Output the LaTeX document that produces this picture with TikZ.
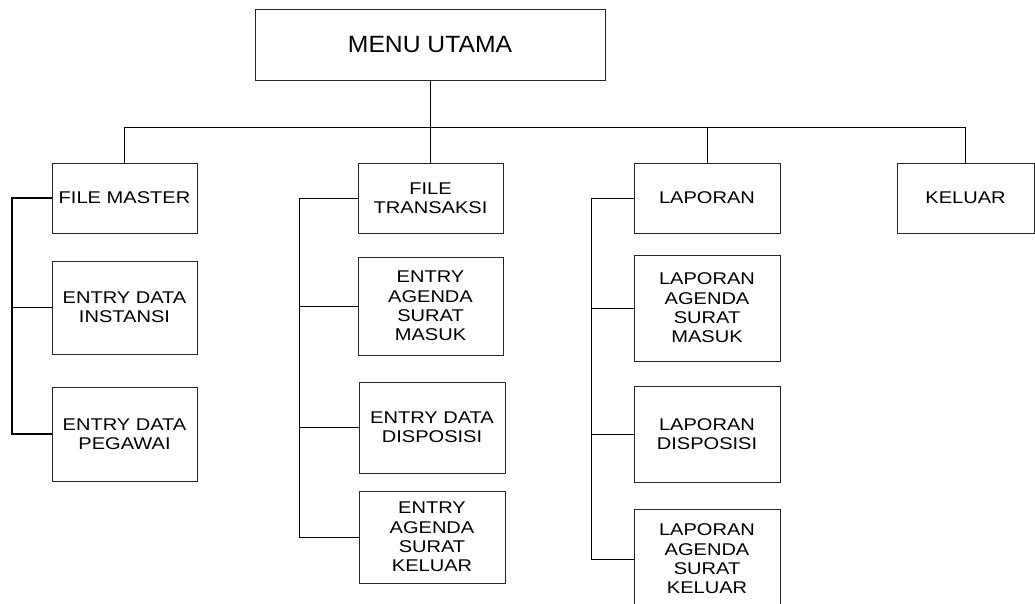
\documentclass[tikz,border=0pt]{standalone}
\usepackage{fontspec}
\setmainfont{Liberation Sans}
\newfontfamily\boxfont[FakeStretch=1.18]{Liberation Sans}
\newfontfamily\titlefont[FakeStretch=1.05]{Liberation Sans}
\begin{document}
\begin{tikzpicture}[x=1pt,y=-1pt,
  menubox/.style={draw=black!85, line width=0.8pt, align=center, inner sep=0pt,
    font=\boxfont\fontsize{17}{19.4}\selectfont},
  titlebox/.style={menubox, font=\titlefont\fontsize{23.5}{26}\selectfont},
  link/.style={draw=black, line width=0.8pt}]
\useasboundingbox (0,0) rectangle (1035,604);
\clip (0,0) rectangle (1035,604);

% top level
\node[titlebox, minimum width=350pt, minimum height=71pt] (menu) at (430,44.5) {MENU UTAMA};

\node[menubox, minimum width=145pt, minimum height=70pt] (fm)  at (124.5,198) {FILE MASTER};
\node[menubox, minimum width=145pt, minimum height=70pt] (ft)  at (430.5,198) {FILE\\TRANSAKSI};
\node[menubox, minimum width=146pt, minimum height=70pt] (lap) at (707,198) {LAPORAN};
\node[menubox, minimum width=137pt, minimum height=70pt] (kel) at (965.5,198) {KELUAR};

% file master column
\node[menubox, minimum width=145pt, minimum height=93pt] (edi) at (124.5,307.5) {ENTRY DATA\\INSTANSI};
\node[menubox, minimum width=145pt, minimum height=94pt] (edp) at (124.5,434) {ENTRY DATA\\PEGAWAI};

% file transaksi column
\node[menubox, minimum width=145pt, minimum height=98pt] (easm) at (430.5,306) {ENTRY\\AGENDA\\SURAT\\MASUK};
\node[menubox, minimum width=146pt, minimum height=91pt] (edd)  at (432,427.5) {ENTRY DATA\\DISPOSISI};
\node[menubox, minimum width=146pt, minimum height=92pt] (eask) at (432,537) {ENTRY\\AGENDA\\SURAT\\KELUAR};

% laporan column
\node[menubox, minimum width=146pt, minimum height=106pt] (lasm) at (707,308) {LAPORAN\\AGENDA\\SURAT\\MASUK};
\node[menubox, minimum width=146pt, minimum height=96pt]  (ld)   at (707,434) {LAPORAN\\DISPOSISI};
\node[menubox, minimum width=146pt, minimum height=100pt] (lask) at (707,559) {LAPORAN\\AGENDA\\SURAT\\KELUAR};

% main bus
\coordinate (bus) at (430,127);
\draw[link] (menu.south) -- (bus);
\draw[link] (fm.north) -- (fm.north |- bus) -- (kel.north |- bus) -- (kel.north);
\draw[link] (ft.north) -- (ft.north |- bus);
\draw[link] (lap.north) -- (lap.north |- bus);

% column buses
\coordinate (c1) at (12,0);
\coordinate (c2) at (299,0);
\coordinate (c3) at (591,0);
\draw[link, line width=1.1pt] (fm.west) -- (fm.west -| c1) -- (edp.west -| c1) -- (edp.west);
\draw[link, line width=1.1pt] (edi.west) -- (edi.west -| c1);

\draw[link] (ft.west) -- (ft.west -| c2) -- (eask.west -| c2) -- (eask.west);
\draw[link] (easm.west) -- (easm.west -| c2);
\draw[link] (edd.west) -- (edd.west -| c2);

\draw[link] (lap.west) -- (lap.west -| c3) -- (lask.west -| c3) -- (lask.west);
\draw[link] (lasm.west) -- (lasm.west -| c3);
\draw[link] (ld.west) -- (ld.west -| c3);
\end{tikzpicture}
\end{document}
